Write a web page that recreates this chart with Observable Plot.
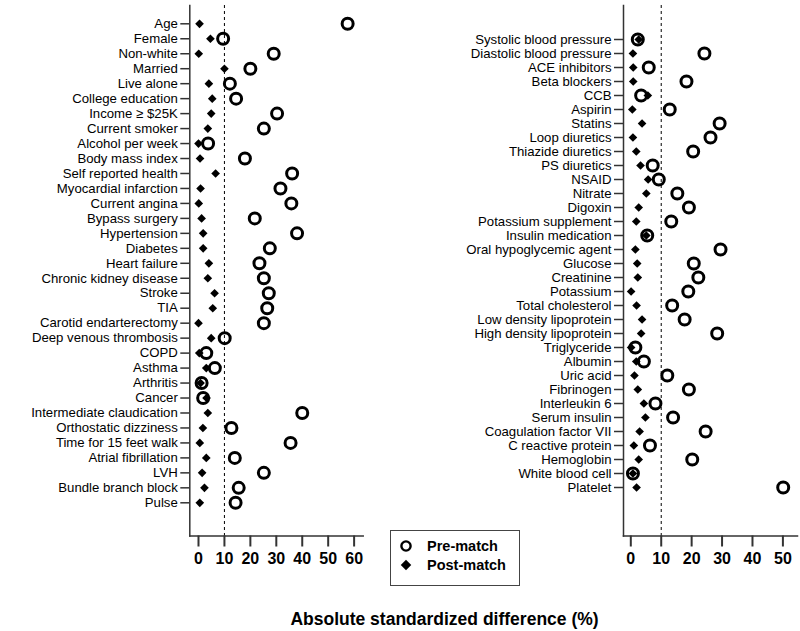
<!DOCTYPE html>
<html><head><meta charset="utf-8">
<script src="https://cdn.jsdelivr.net/npm/d3@7"></script>
<script src="https://cdn.jsdelivr.net/npm/@observablehq/plot@0.6"></script>
<style>
html,body{margin:0;padding:0;background:#fff;}
#chart{position:relative;width:800px;height:631px;overflow:hidden;font-family:"Liberation Sans",Arial,sans-serif;color:#000;}
#left,#right{position:absolute;top:0;}
#left{left:0;} #right{left:400px;}
#legend{position:absolute;left:390px;top:530px;width:130px;height:56px;border:1.5px solid #444;box-sizing:border-box;background:#fff;}
#title{position:absolute;left:0;width:889px;text-align:center;top:609px;line-height:20px;font-weight:bold;font-size:17.5px;}
</style></head><body>
<div id="chart"><div id="left"></div><div id="right"></div><div id="legend"></div><div id="title">Absolute standardized difference (%)</div></div>
<script>
const leftLabels = ["Age","Female","Non-white","Married","Live alone","College education","Income ≥ $25K","Current smoker","Alcohol per week","Body mass index","Self reported health","Myocardial infarction","Current angina","Bypass surgery","Hypertension","Diabetes","Heart failure","Chronic kidney disease","Stroke","TIA","Carotid endarterectomy","Deep venous thrombosis","COPD","Asthma","Arthritis","Cancer","Intermediate claudication","Orthostatic dizziness","Time for 15 feet walk","Atrial fibrillation","LVH","Bundle branch block","Pulse"];
const leftPre = [57.5,9.5,29,20,12.1,14.5,30.3,25.2,3.7,17.9,36.1,31.6,35.8,21.7,38.0,27.5,23.5,25.2,27.1,26.5,25.2,10.1,3.0,6.3,1.2,1.8,40.0,12.7,35.5,14.0,25.2,15.5,14.3];
const leftPost = [0.4,4.6,0.1,10.0,4.0,5.3,4.9,3.6,0.0,0.6,6.6,0.8,0.1,1.2,1.8,1.8,4.0,3.6,6.2,5.5,0.0,4.9,0.3,3.0,0.8,3.1,3.6,1.7,0.5,3.0,1.4,2.3,0.5];

const rightLabels = ["Systolic blood pressure","Diastolic blood pressure","ACE inhibitors","Beta blockers","CCB","Aspirin","Statins","Loop diuretics","Thiazide diuretics","PS diuretics","NSAID","Nitrate","Digoxin","Potassium supplement","Insulin medication","Oral hypoglycemic agent","Glucose","Creatinine","Potassium","Total cholesterol","Low density lipoprotein","High density lipoprotein","Triglyceride","Albumin","Uric acid","Fibrinogen","Interleukin 6","Serum insulin","Coagulation factor VII","C reactive protein","Hemoglobin","White blood cell","Platelet"];
const rightPre = [2.3,24.2,5.9,18.3,3.4,12.8,29.2,26.2,20.5,7.2,9.2,15.3,19.1,13.3,5.4,29.5,20.7,22.2,18.9,13.6,17.7,28.4,1.5,4.3,12.0,19.1,8.1,13.9,24.6,6.3,20.2,0.7,50.1];
const rightPost = [2.6,0.7,0.8,0.8,5.6,0.5,3.7,0.7,1.8,3.2,5.7,5.1,2.6,1.8,5.1,1.5,2.1,2.3,0.1,1.9,3.7,3.4,0.1,1.8,1.2,2.3,4.3,4.8,2.9,1.0,2.6,0.7,1.9];

const leftTicks = [0,10,20,30,40,50,60];
const rightTicks = [0,10,20,30,40,50];
const threshold = 10;
const legendLabels = ["Pre-match","Post-match"];

const FONT = '"Liberation Sans", Arial, sans-serif';

function panel(labels, pre, post, ticks, xDomain, yRange, marginLeft, marginRight) {
  const rows = labels.map((label, i) => ({label, pre: pre[i], post: post[i]}));
  return Plot.plot({
    width: 400, height: 580,
    marginTop: 5, marginBottom: 44.5, marginLeft, marginRight,
    style: {fontFamily: FONT, fontSize: "13.2px", color: "#000", background: "transparent"},
    x: {domain: xDomain, ticks},
    y: {domain: labels, range: yRange, padding: 0},
    marks: [
      Plot.frame({anchor: "left", stroke: "#333", strokeWidth: 1.5}),
      Plot.frame({anchor: "bottom", stroke: "#333", strokeWidth: 1.5}),
      Plot.ruleX([threshold], {stroke: "#000", strokeWidth: 1, strokeDasharray: "3,3"}),
      Plot.axisY({tickSize: 9, tickPadding: 3, label: null, color: "#000", stroke: "#333", strokeWidth: 1.5, fontSize: 13.2}),
      Plot.axisX({ticks, tickSize: 11, tickPadding: 6, label: null, color: "#000", stroke: "#333", strokeWidth: 2, fontSize: 16, fontWeight: "bold"}),
      Plot.dot(rows, {x: "post", y: "label", symbol: "diamond2", fill: "#000", stroke: "none", r: 3.9}),
      Plot.dot(rows, {x: "pre", y: "label", symbol: "circle", fill: "none", stroke: "#000", strokeWidth: 3, r: 5.5})
    ]
  });
}

document.getElementById("left").append(
  panel(leftLabels, leftPre, leftPost, leftTicks, [-3.35, 63.5], [23.3, 502.3], 189.3, 37.3)
);
document.getElementById("right").append(
  panel(rightLabels, rightPre, rightPost, rightTicks, [-2.4, 54.8], [26.7, 500], 223, 3)
);

// legend
const lg = d3.select("#legend").append("svg").attr("width", 127).attr("height", 53)
  .style("font-family", FONT);
const diamondPath = d3.symbol(d3.symbolDiamond2, 70)();
legendLabels.forEach((t, i) => {
  const y = 15 + i * 19;
  const g = lg.append("g").attr("transform", `translate(15,${y})`);
  if (i === 0) g.append("circle").attr("r", 4.6).attr("fill", "none").attr("stroke", "#000").attr("stroke-width", 2.4);
  else g.append("path").attr("d", diamondPath).attr("fill", "#000");
  lg.append("text").attr("x", 36).attr("y", y).attr("dy", "0.35em")
    .attr("font-size", 14.5).attr("font-weight", "bold").text(t);
});
</script>
</body></html>
